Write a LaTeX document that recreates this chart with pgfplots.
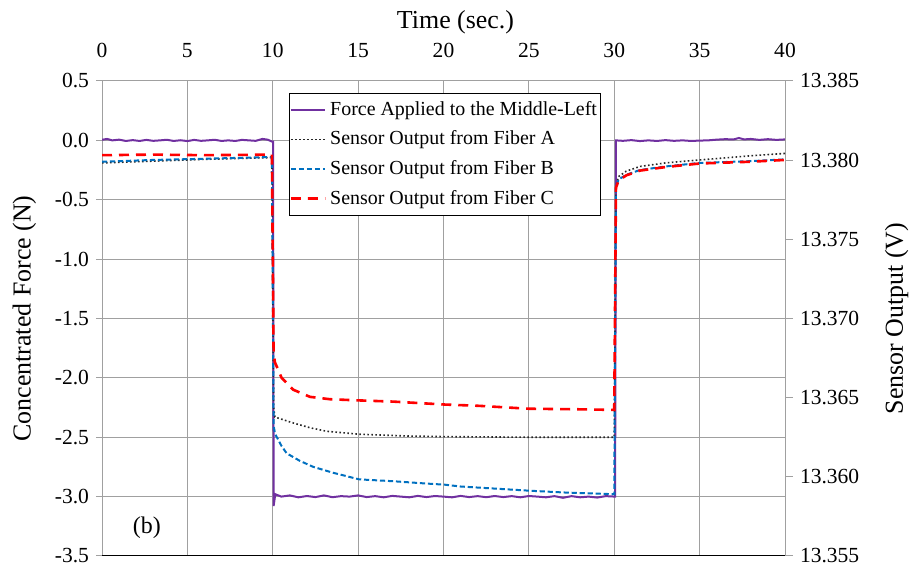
\documentclass[border=0pt]{standalone}
\usepackage{pgfplots}
\pgfplotsset{compat=1.18}
\usepackage{fontspec}
\setmainfont{Liberation Serif}
\definecolor{forcepurple}{RGB}{112,48,160}
\definecolor{fiberblue}{RGB}{0,112,192}
\definecolor{fiberred}{RGB}{255,0,0}
\definecolor{gridgray}{RGB}{160,160,160}
\begin{document}
\begin{tikzpicture}
\begin{axis}[
  name=ax,
  scale only axis,
  width=341.5bp, height=237.5bp,
  xmin=0, xmax=40, ymin=-3.5, ymax=0.5,
  xtick={0,5,...,40}, ytick={-3.5,-3,...,0.5},
  xticklabel pos=upper, xtick pos=upper,
  yticklabel pos=left, ytick pos=left,
  tick align=outside,
  x tick style={draw=none},
  y tick style={gridgray, line width=0.5bp},
  major tick length=3bp,
  axis line style={gridgray, line width=0.5bp},
  grid=major, major grid style={gridgray, line width=0.5bp},
  /pgf/number format/assume math mode=true,
  tick label style={font=\fontsize{10.8}{13}\selectfont},
  y tick label style={/pgf/number format/.cd, fixed, fixed zerofill, precision=1},
  x tick label style={yshift=5bp},
  xlabel={Time (sec.)},
  ylabel={Concentrated Force (N)},
  label style={font=\fontsize{13}{16}\selectfont},
  xlabel style={yshift=-2bp, xshift=6bp},
  ylabel style={yshift=2.5bp},
]
\addplot[forcepurple, line width=1bp] coordinates {
(0,0.005) (0.3,0.012) (0.6,0.0) (1.0,0.006) (1.4,-0.005) (1.8,0.002) (2.2,-0.005) (2.6,0.004) (3.0,-0.004) (3.4,0.0) (3.8,0.005) (4.2,-0.005) (4.6,0.001) (5.0,-0.006) (5.4,0.004) (5.8,-0.004) (6.2,0.0) (6.6,0.005) (7.0,-0.005) (7.4,0.0) (7.8,-0.005) (8.2,0.004) (8.6,0.0) (9.0,-0.004) (9.4,0.012) (9.7,0.006) (9.95,-0.01) (10.02,-0.01)
(10.05,-3.08) (10.15,-2.98) (10.5,-3.0) (11,-2.99) (11.5,-3.006) (12,-2.995) (12.5,-3.004) (13,-2.99) (13.5,-3.005) (14,-2.996) (14.5,-3.0) (15,-2.99) (15.5,-3.004) (16,-2.996) (16.5,-3.006) (17,-2.994) (17.5,-3.0) (18,-3.006) (18.5,-2.994) (19,-3.004) (19.5,-2.995) (20,-3.0) (20.5,-3.006) (21,-2.994) (21.5,-3.004) (22,-2.996) (22.5,-3.005) (23,-2.995) (23.5,-3.004) (24,-2.996) (24.5,-3.006) (25,-2.995) (25.5,-3.0) (26,-3.006) (26.5,-2.996) (27,-3.01) (27.5,-2.996) (28,-3.006) (28.5,-3.0) (29,-3.008) (29.5,-2.996) (30.05,-3.0)
(30.1,0.0) (30.5,-0.004) (31,0.002) (31.5,-0.006) (32,0.0) (32.5,-0.005) (33,0.002) (33.5,-0.004) (34,0.0) (34.5,-0.005) (35,-0.002) (35.5,0.0) (36,0.006) (36.5,0.01) (37,0.008) (37.3,0.02) (37.6,0.008) (38,0.012) (38.5,0.004) (39,0.01) (39.5,0.004) (40,0.008)
};
\node[font=\fontsize{12}{14}\selectfont] at (axis cs:2.63,-3.26) {(b)};
\end{axis}
\begin{axis}[
  scale only axis,
  width=341.5bp, height=237.5bp,
  xmin=0, xmax=40, ymin=13.355, ymax=13.385,
  axis x line=none,
  axis y line*=right,
  ytick={13.355,13.360,...,13.386},
  tick align=outside,
  y tick style={gridgray, line width=0.5bp},
  major tick length=4bp,
  axis line style={gridgray, line width=0.5bp},
  /pgf/number format/assume math mode=true,
  tick label style={font=\fontsize{10.8}{13}\selectfont},
  y tick label style={/pgf/number format/.cd, fixed, fixed zerofill, precision=3},
  ylabel={Sensor Output (V)},
  label style={font=\fontsize{13}{16}\selectfont},
  ylabel style={yshift=-6bp},
  legend style={at={(rel axis cs:0.274,0.975)}, anchor=north west, draw=black, line width=0.5bp, fill=white, font=\fontsize{10}{12}\selectfont, row sep=2.3bp, inner xsep=0bp, inner ysep=2bp},
  legend cell align=left,
]
\addlegendimage{forcepurple, line width=1bp}
\addlegendentry{Force Applied to the Middle-Left}
\addplot[black!85, line width=0.8bp, dash pattern=on 0.8bp off 1.2bp] coordinates {
(0,13.379825) (3,13.379938) (6,13.380050) (9.95,13.380163)
(10.05,13.364375) (10.13,13.363775) (11.2,13.363400) (12.18,13.363100) (13.16,13.362875) (15.07,13.362688) (18,13.362575) (20.1,13.362538) (25,13.362500) (30.0,13.362500)
(30.1,13.378325) (30.25,13.378963) (30.7,13.379300) (31.5,13.379600) (33,13.379825) (35,13.380013) (38,13.380275) (40,13.380425)
};
\addlegendentry{Sensor Output from Fiber A}
\addplot[fiberblue, line width=1bp, dash pattern=on 2.6bp off 1.4bp] coordinates {
(0,13.379900) (3,13.380013) (6,13.380088) (9.95,13.380200)
(10.05,13.363250) (10.13,13.362725) (10.5,13.361975) (10.81,13.361488) (11.6,13.361000) (12.38,13.360625) (13.55,13.360250) (15.07,13.359838) (17,13.359725) (19,13.359575) (20.1,13.359500) (21,13.359388) (25,13.359125) (27,13.359013) (30.0,13.358900)
(30.1,13.378250) (30.25,13.378775) (30.7,13.379075) (31.5,13.379375) (33,13.379600) (35,13.379825) (38,13.379938) (40,13.380050)
};
\addlegendentry{Sensor Output from Fiber B}
\addplot[fiberred, line width=1.3bp, dash pattern=on 5bp off 3.5bp] coordinates {
(0,13.380313) (3,13.380350) (6,13.380313) (9.95,13.380350)
(10.05,13.367750) (10.13,13.367225) (10.52,13.366250) (11.2,13.365500) (12.18,13.365050) (13.35,13.364900) (15.07,13.364825) (17.06,13.364750) (20.1,13.364563) (22,13.364488) (25,13.364300) (28,13.364263) (30.0,13.364225)
(30.1,13.378250) (30.25,13.378700) (30.7,13.379038) (31.5,13.379338) (33,13.379563) (35,13.379788) (38,13.379900) (40,13.380013)
};
\addlegendentry{Sensor Output from Fiber C}
\draw[black, line width=0.8bp] (rel axis cs:0,0) -- (rel axis cs:1,0);
\end{axis}
\pgfresetboundingbox
\path[use as bounding box] ([xshift=-51bp,yshift=-6.5bp]ax.south west) rectangle ([xshift=62bp,yshift=40.5bp]ax.north east);
\end{tikzpicture}
\end{document}
